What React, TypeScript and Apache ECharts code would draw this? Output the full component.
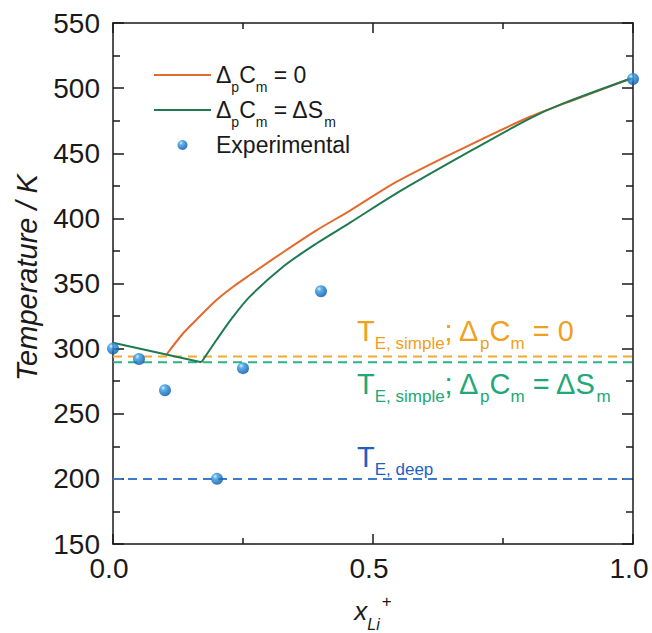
import React, { useEffect, useRef } from 'react';
import * as echarts from 'echarts';

// ---- data ----
const xTicks = [0, 0.5, 1.0];
const yTicks = [150, 200, 250, 300, 350, 400, 450, 500, 550];

// ΔpCm = 0 : rising liquidus branch (its left branch coincides with the green one)
const orangeX = [0.103, 0.135, 0.16, 0.199, 0.231, 0.263, 0.327, 0.392, 0.456, 0.545, 0.674, 0.802, 0.9, 1.0];
const orangeT = [295.5, 311.8, 322, 337.3, 347.5, 356.5, 374, 391, 406, 428, 454, 478, 493, 508];

// ΔpCm = ΔSm : left branch and rising branch
const greenLeftX = [0, 0.17];
const greenLeftT = [304.5, 289.5];
const greenX = [0.17, 0.199, 0.231, 0.263, 0.327, 0.392, 0.456, 0.545, 0.674, 0.802, 0.866, 1.0];
const greenT = [289.5, 306.6, 324.5, 339.9, 362.9, 380.9, 396.7, 419.2, 448.7, 476.8, 488.3, 508];

const expX = [0, 0.05, 0.1, 0.2, 0.25, 0.4, 1.0];
const expT = [300, 292, 268, 200, 285, 344, 507];

const eutecticT = [294, 289.5, 200];
const eutecticColors = ['#F2A935', '#2DB383', '#3A7BD0'];

const seriesNames = ['ΔpCm = 0', 'ΔpCm = ΔSm', 'Experimental'];

const FONT = 'Liberation Sans, Arial, Helvetica, sans-serif';
const INK = '#1a1a1a';
const ORANGE = '#E4692A';
const GREEN = '#1F7A50';

const zip = (xs: number[], ys: number[]) => xs.map((x, i) => [x, ys[i]]);

export default function App() {
  const ref = useRef<HTMLDivElement>(null);

  useEffect(() => {
    if (!ref.current) return;
    const chart = echarts.init(ref.current, null, { renderer: 'svg' });

    const legRich: any = {
      a: { fontSize: 23, lineHeight: 30, verticalAlign: 'middle', color: INK, fontFamily: FONT },
      s: { fontSize: 14, lineHeight: 30, verticalAlign: 'middle', padding: [24, 0, 0, 0], color: INK, fontFamily: FONT },
    };
    const legendFmt = (name: string) => {
      if (name === seriesNames[0]) return '{a|Δ}{s|p}{a|C}{s|m}{a| = 0}';
      if (name === seriesNames[1]) return '{a|Δ}{s|p}{a|C}{s|m}{a| = ΔS}{s|m}';
      return '{a|Experimental}{s| }';
    };

    const annRich = (color: string): any => ({
      T: { fontSize: 29, lineHeight: 34, verticalAlign: 'middle', fill: color, fontFamily: FONT },
      s: { fontSize: 17, lineHeight: 34, verticalAlign: 'middle', padding: [25, 0, 0, 0], fill: color, fontFamily: FONT },
    });
    const annColors = ['#F0A020', '#22A878', '#1F5FBF'];

    const sphere = new echarts.graphic.RadialGradient(0.35, 0.3, 0.75, [
      { offset: 0, color: '#d6f0ff' },
      { offset: 0.25, color: '#3b9de2' },
      { offset: 0.7, color: '#0f6cc0' },
      { offset: 1, color: '#0a4f94' },
    ]);

    const baseAxisLine = { show: true, onZero: false, lineStyle: { color: INK, width: 1.5 } };
    const hiddenSymbol = { opacity: 0, borderWidth: 0 };

    const option: any = {
      animation: false,
      backgroundColor: '#ffffff',
      grid: { left: 113, right: 19, top: 23, bottom: 89, containLabel: false, outerBoundsMode: 'none' },
      legend: {
        data: [
          { name: seriesNames[0], itemStyle: hiddenSymbol },
          { name: seriesNames[1], itemStyle: hiddenSymbol },
          { name: seriesNames[2] },
        ],
        orient: 'vertical',
        left: 153,
        top: 56,
        padding: 0,
        itemGap: -3,
        itemWidth: 57,
        itemHeight: 10,
        formatter: legendFmt,
        textStyle: { rich: legRich, fontSize: 23, fontFamily: FONT, color: INK },
        selectedMode: false,
      },
      xAxis: [
        {
          type: 'value',
          min: xTicks[0],
          max: xTicks[xTicks.length - 1],
          interval: xTicks[1] - xTicks[0],
          name: '{x|x}{sub|Li}{sup|+}',
          nameLocation: 'middle',
          nameGap: 52,
          nameTextStyle: {
            rich: {
              x: { fontSize: 26, fontStyle: 'italic', lineHeight: 30, verticalAlign: 'middle', color: INK, fontFamily: FONT },
              sub: { fontSize: 16, fontStyle: 'italic', lineHeight: 30, verticalAlign: 'middle', padding: [26, 0, 0, 0], color: INK, fontFamily: FONT },
              sup: { fontSize: 17, lineHeight: 30, verticalAlign: 'middle', padding: [0, 0, 20, 2], color: INK, fontFamily: FONT },
            },
          },
          axisLine: baseAxisLine,
          axisTick: { show: true, inside: true, length: 10, lineStyle: { color: INK, width: 1.5 } },
          minorTick: { show: true, splitNumber: 2, length: 6, lineStyle: { color: INK, width: 1.5 } },
          axisLabel: {
            fontSize: 28, color: INK, fontFamily: FONT, margin: 10, padding: [0, 8, 0, 0],
            formatter: (v: number) => v.toFixed(1),
          },
          splitLine: { show: false },
        },
        {
          type: 'value',
          position: 'top',
          min: xTicks[0],
          max: xTicks[xTicks.length - 1],
          interval: xTicks[1] - xTicks[0],
          axisLine: baseAxisLine,
          axisTick: { show: true, inside: true, length: 10, lineStyle: { color: INK, width: 1.5 } },
          minorTick: { show: true, splitNumber: 2, length: 6, lineStyle: { color: INK, width: 1.5 } },
          axisLabel: { show: false },
          splitLine: { show: false },
        },
      ],
      yAxis: [
        {
          type: 'value',
          min: yTicks[0],
          max: yTicks[yTicks.length - 1],
          interval: yTicks[1] - yTicks[0],
          name: 'Temperature / K',
          nameLocation: 'middle',
          nameGap: 72,
          nameTextStyle: {
            fontSize: 29, fontStyle: 'italic', color: INK, fontFamily: FONT, lineHeight: 29,
            padding: [0, 0, 0, 12],
          },
          axisLine: baseAxisLine,
          axisTick: { show: true, inside: true, length: 11, lineStyle: { color: INK, width: 1.5 } },
          minorTick: { show: true, splitNumber: 2, length: 7, lineStyle: { color: INK, width: 1.5 } },
          axisLabel: { fontSize: 28, color: INK, fontFamily: FONT, margin: 13 },
          splitLine: { show: false },
        },
        {
          type: 'value',
          position: 'right',
          min: yTicks[0],
          max: yTicks[yTicks.length - 1],
          interval: yTicks[1] - yTicks[0],
          axisLine: baseAxisLine,
          axisTick: { show: true, inside: true, length: 11, lineStyle: { color: INK, width: 1.5 } },
          minorTick: { show: true, splitNumber: 2, length: 7, lineStyle: { color: INK, width: 1.5 } },
          axisLabel: { show: false },
          splitLine: { show: false },
        },
      ],
      series: [
        ...eutecticT.map((t, i) => ({
          type: 'line',
          name: 'eutectic' + i,
          data: [[xTicks[0], t], [xTicks[xTicks.length - 1], t]],
          symbol: 'none',
          silent: true,
          lineStyle: { color: eutecticColors[i], width: 2, type: [9, 6] },
          z: 1,
        })),
        {
          type: 'line',
          name: seriesNames[0],
          data: zip(orangeX, orangeT),
          symbol: 'none',
          smooth: 0.3,
          lineStyle: { color: ORANGE, width: 2 },
          itemStyle: { color: ORANGE },
          z: 2,
        },
        {
          type: 'line',
          name: 'greenLeft',
          data: zip(greenLeftX, greenLeftT),
          symbol: 'none',
          lineStyle: { color: GREEN, width: 2 },
          itemStyle: { color: GREEN },
          z: 3,
        },
        {
          type: 'line',
          name: seriesNames[1],
          data: zip(greenX, greenT),
          symbol: 'none',
          smooth: 0.3,
          lineStyle: { color: GREEN, width: 2 },
          itemStyle: { color: GREEN },
          z: 3,
        },
        {
          type: 'scatter',
          name: seriesNames[2],
          data: zip(expX, expT),
          symbol: 'circle',
          symbolSize: 12,
          itemStyle: { color: sphere },
          z: 4,
        },
      ],
      graphic: [
        {
          type: 'text',
          left: 357,
          top: 310,
          style: {
            text: '{T|T}{s|E, simple}{T|; Δ}{s|p}{T|C}{s|m}{T| = 0}',
            rich: annRich(annColors[0]),
            fill: annColors[0],
          },
          z: 10,
        },
        {
          type: 'text',
          left: 357,
          top: 363,
          style: {
            text: '{T|T}{s|E, simple}{T|; Δ}{s|p}{T|C}{s|m}{T| = ΔS}{s|m}',
            rich: annRich(annColors[1]),
            fill: annColors[1],
          },
          z: 10,
        },
        {
          type: 'text',
          left: 357,
          top: 436,
          style: {
            text: '{T|T}{s|E, deep}',
            rich: annRich(annColors[2]),
            fill: annColors[2],
          },
          z: 10,
        },
      ],
    };

    chart.setOption(option);
    return () => chart.dispose();
  }, []);

  return (
    <div
      ref={ref}
      style={{ position: 'fixed', left: 0, top: 0, width: 652, height: 633, background: '#fff' }}
    />
  );
}
